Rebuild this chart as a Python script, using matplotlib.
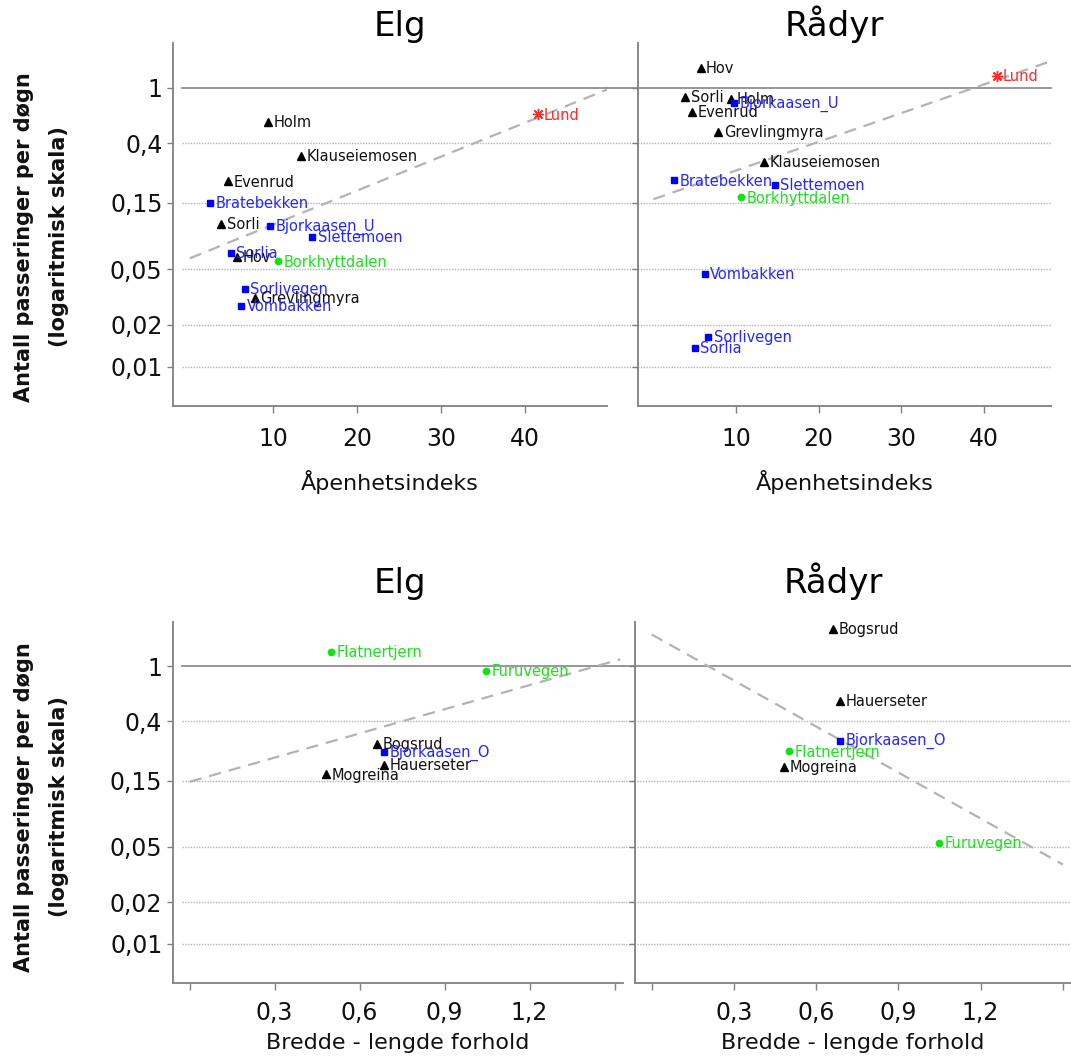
import matplotlib
matplotlib.use("Agg")
import matplotlib.pyplot as plt

# --- values ---
open_sites = ["Holm", "Klauseiemosen", "Evenrud", "Bratebekken", "Sorli", "Bjorkaasen_U",
              "Slettemoen", "Sorlia", "Hov", "Borkhyttdalen", "Sorlivegen", "Grevlingmyra",
              "Vombakken", "Lund"]
open_group = ["tri", "tri", "tri", "sq", "tri", "sq", "sq", "sq", "tri", "dot", "sq", "tri", "sq", "star"]
open_index = [9.4, 13.35, 4.66, 2.5, 3.85, 9.7, 14.7, 5.0, 5.7, 10.6, 6.63, 7.87, 6.2, 41.6]
elg_open = [0.57, 0.325, 0.213, 0.149, 0.106, 0.1025, 0.085, 0.0653, 0.0612, 0.057, 0.0361, 0.0311, 0.0275, 0.644]
radyr_open = [0.83, 0.293, 0.667, 0.217, 0.862, 0.773, 0.2, 0.0136, 1.39, 0.164, 0.0164, 0.482, 0.0464, 1.22]

ratio_sites = ["Flatnertjern", "Furuvegen", "Bogsrud", "Bjorkaasen_O", "Hauerseter", "Mogreina"]
ratio_group = ["dot", "dot", "tri", "sq", "tri", "tri"]
ratio = [0.5, 1.047, 0.662, 0.687, 0.686, 0.482]
elg_ratio = [1.266, 0.926, 0.274, 0.24, 0.194, 0.166]
radyr_ratio = [0.243, 0.0536, 1.86, 0.291, 0.565, 0.187]

# dashed trend lines (end points)
trend_elg_open_x, trend_elg_open_y = [0.1, 49.8], [0.06, 0.97]
trend_radyr_open_x, trend_radyr_open_y = [0.0, 48.1], [0.159, 1.55]
trend_elg_ratio_x, trend_elg_ratio_y = [0.0, 1.52], [0.147, 1.12]
trend_radyr_ratio_x, trend_radyr_ratio_y = [0.0, 1.50], [1.69, 0.0373]

y_ticks = [0.01, 0.02, 0.05, 0.15, 0.4, 1]
y_ticklabels = ["0,01", "0,02", "0,05", "0,15", "0,4", "1"]
open_ticks = [10, 20, 30, 40]
open_ticklabels = ["10", "20", "30", "40"]
ratio_ticks = [0, 0.3, 0.6, 0.9, 1.2, 1.5]
ratio_ticklabels = ["", "0,3", "0,6", "0,9", "1,2", ""]

plt.rcParams["font.family"] = ["DejaVu Sans"]

STYLE = {
    "tri": dict(marker="^", ms=6.0, mfc="black", mec="black", text="#111111"),
    "sq": dict(marker="s", ms=5.0, mfc="#0000ff", mec="#0000ff", text="#2626ff"),
    "dot": dict(marker="o", ms=4.6, mfc="#14e014", mec="#14e014", text="#1ee01e"),
    "star": dict(marker=(8, 2, 0), ms=8.0, mfc="#ff2a2a", mec="#ff2a2a", text="#ff2a2a"),
}
AXIS_GRAY = "#808080"
W, H = 1071, 1061


def px_axes(fig, x0, y0, x1, y1):
    return fig.add_axes([x0 / W, 1 - y1 / H, (x1 - x0) / W, (y1 - y0) / H])


def draw_panel(ax, x, y, names, groups, tx, ty, xlim, xticks, xticklabels,
               title, title_x, title_pad, xlabel, labelpad, xpad, left, grid_start):
    ax.set_yscale("log")
    ax.set_ylim(0.00525, 2.09)
    ax.set_xlim(*xlim)

    for yv in y_ticks[:-1]:
        ax.axhline(yv, xmin=grid_start, color="#b4b4b4", lw=1.0, ls=(0, (1, 1)),
                   zorder=0, clip_on=False)
    ax.axhline(1, xmin=grid_start, color="#8f8f8f", lw=1.3, zorder=0, clip_on=False)

    ax.plot(tx, ty, color="#b3b3b3", lw=1.6, ls=(0, (5.5, 3.6)), zorder=1)

    for xi, yi, name, g in zip(x, y, names, groups):
        st = STYLE[g]
        ax.plot(xi, yi, ls="none", marker=st["marker"], ms=st["ms"],
                mfc=st["mfc"], mec=st["mec"], mew=1.0, zorder=3)
        ax.annotate(name, (xi, yi), xytext=(4, -0.5), textcoords="offset points",
                    ha="left", va="center", fontsize=10.5, color=st["text"], zorder=4)

    ax.set_yticks(y_ticks)
    ax.minorticks_off()
    ax.set_yticklabels(y_ticklabels if left else [""] * len(y_ticks))
    ax.set_xticks(xticks)
    ax.set_xticklabels(xticklabels)
    ax.tick_params(axis="y", length=4.5, width=1.0, color=AXIS_GRAY, pad=3,
                   labelsize=17, labelcolor="#111111")
    ax.tick_params(axis="x", length=5, width=1.0, color=AXIS_GRAY, pad=xpad,
                   labelsize=17, labelcolor="#111111")

    for side in ["top", "right"]:
        ax.spines[side].set_visible(False)
    for side in ["left", "bottom"]:
        ax.spines[side].set_color(AXIS_GRAY)
        ax.spines[side].set_linewidth(1.3)

    ax.set_title(title, fontsize=24.5, pad=title_pad, x=title_x)
    ax.set_xlabel(xlabel, fontsize=16, labelpad=labelpad, color="#111111")


fig = plt.figure(figsize=(W / 100, H / 100), dpi=100)

ax1 = px_axes(fig, 173, 43, 607, 406)
draw_panel(ax1, open_index, elg_open, open_sites, open_group,
           trend_elg_open_x, trend_elg_open_y, (-1.9, 49.8), open_ticks, open_ticklabels,
           "Elg", 0.523, 3, "Åpenhetsindeks", 14, 10, True, 0.02)

ax2 = px_axes(fig, 637.7, 43, 1051, 406)
draw_panel(ax2, open_index, radyr_open, open_sites, open_group,
           trend_radyr_open_x, trend_radyr_open_y, (-1.9, 48.1), open_ticks, open_ticklabels,
           "Rådyr", 0.475, 3, "Åpenhetsindeks", 14, 10, False, -0.074)

ax3 = px_axes(fig, 172.7, 621.7, 623, 982.7)
draw_panel(ax3, ratio, elg_ratio, ratio_sites, ratio_group,
           trend_elg_ratio_x, trend_elg_ratio_y, (-0.06, 1.53), ratio_ticks, ratio_ticklabels,
           "Elg", 0.505, 21, "Bredde - lengde forhold", 6, 8, True, 0.02)

ax4 = px_axes(fig, 634.7, 621.7, 1071, 982.7)
draw_panel(ax4, ratio, radyr_ratio, ratio_sites, ratio_group,
           trend_radyr_ratio_x, trend_radyr_ratio_y, (-0.062, 1.53), ratio_ticks, ratio_ticklabels,
           "Rådyr", 0.456, 21, "Bredde - lengde forhold", 6, 8, False, -0.027)

# two-line y label, one per row
for yc in [237, 807]:
    fig.text(24 / W, 1 - yc / H, "Antall passeringer per døgn", rotation=90,
             ha="center", va="center", fontsize=15, fontweight="bold", color="#111111")
    fig.text(59 / W, 1 - yc / H, "(logaritmisk skala)", rotation=90,
             ha="center", va="center", fontsize=15, fontweight="bold", color="#111111")

fig.savefig("out.png", dpi=100)
